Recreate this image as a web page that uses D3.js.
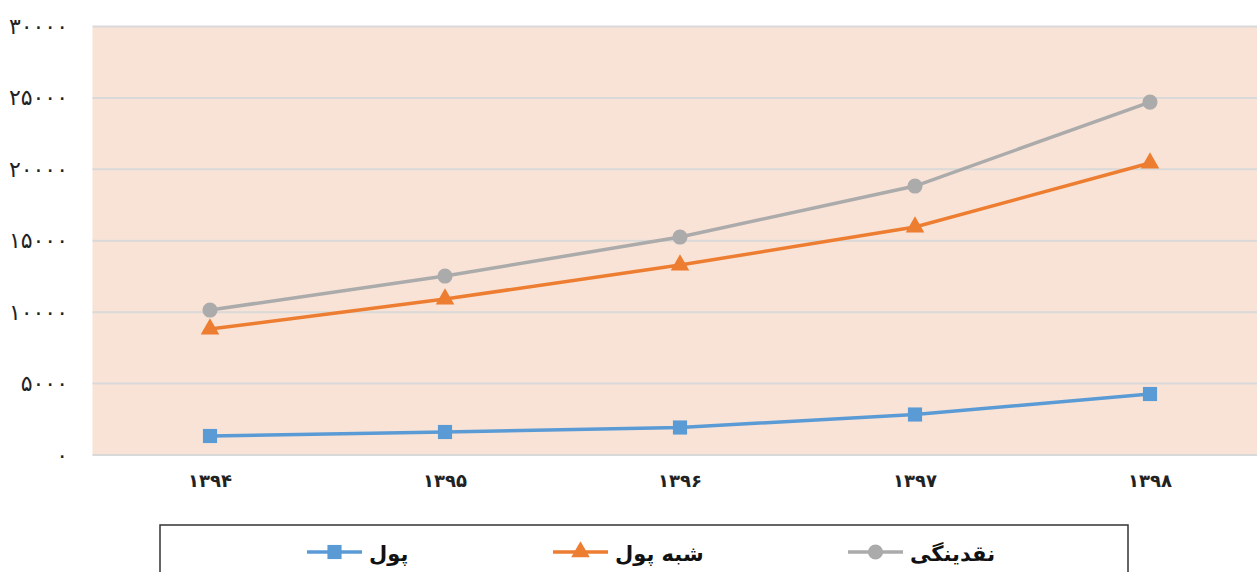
<!DOCTYPE html>
<html lang="fa">
<head>
<meta charset="UTF-8">
<title>Liquidity</title>
<script src="https://d3js.org/d3.v7.min.js"></script>
<style>
	html, body { margin: 0; padding: 0; background: #fff; }
	svg { display: block; }
	text { font-family: "DejaVu Sans", sans-serif; }
</style>
</head>
<body>
<svg id="chart" width="1257" height="572"></svg>
<script>
	// data
	const years = ["۱۳۹۴", "۱۳۹۵", "۱۳۹۶", "۱۳۹۷", "۱۳۹۸"];
	const money = [1330, 1610, 1925, 2835, 4270];          // پول
	const quasiMoney = [8820, 10920, 13300, 15960, 20440]; // شبه پول
	const liquidity = [10150, 12530, 15260, 18830, 24710]; // نقدینگی
	const yTicks = [0, 5000, 10000, 15000, 20000, 25000, 30000];

	const series = [
		{ name: "پول", values: money, color: "#5B9BD5", shape: "square" },
		{ name: "شبه پول", values: quasiMoney, color: "#ED7D31", shape: "triangle" },
		{ name: "نقدینگی", values: liquidity, color: "#ABABAB", shape: "circle" }
	];

	const faDigits = "۰۱۲۳۴۵۶۷۸۹";
	const toFa = n => String(n).replace(/\d/g, c => faDigits[c]);

	const svg = d3.select("#chart");
	const plotLeft = 92.5, plotTop = 26.5, plotBottom = 455;
	const bandW = 235;

	const x = d3.scaleBand()
		.domain(years)
		.range([plotLeft, plotLeft + bandW * years.length]);

	const y = d3.scaleLinear()
		.domain([0, 30000])
		.range([plotBottom, plotTop]);

	// plot background
	svg.append("rect")
		.attr("x", plotLeft)
		.attr("y", plotTop)
		.attr("width", x.range()[1] - plotLeft)
		.attr("height", plotBottom - plotTop)
		.attr("fill", "#F9E3D6");

	// grid lines
	svg.append("g")
		.selectAll("line")
		.data(yTicks)
		.enter().append("line")
		.attr("x1", plotLeft)
		.attr("x2", x.range()[1])
		.attr("y1", d => y(d))
		.attr("y2", d => y(d))
		.attr("stroke", "#D9D9D9")
		.attr("stroke-width", 2);

	// y labels
	svg.append("g")
		.selectAll("text")
		.data(yTicks)
		.enter().append("text")
		.attr("x", 68)
		.attr("y", d => y(d))
		.attr("text-anchor", "end")
		.attr("dominant-baseline", "central")
		.attr("direction", "ltr")
		.attr("font-size", 22)
		.attr("fill", "#222")
		.text(d => toFa(d));

	// x labels
	svg.append("g")
		.selectAll("text")
		.data(years)
		.enter().append("text")
		.attr("x", d => x(d) + x.bandwidth() / 2)
		.attr("y", 480)
		.attr("text-anchor", "middle")
		.attr("dominant-baseline", "central")
		.attr("font-size", 18)
		.attr("font-weight", "bold")
		.attr("fill", "#222")
		.text(d => d);

	const cx = (d, i) => x(years[i]) + x.bandwidth() / 2;

	const line = d3.line()
		.x((d, i) => cx(d, i))
		.y(d => y(d));

	const symbolFor = {
		square: d3.symbol().type(d3.symbolSquare).size(200),
		triangle: d3.symbol().type(d3.symbolTriangle).size(150),
		circle: d3.symbol().type(d3.symbolCircle).size(180)
	};

	series.forEach(s => {
		svg.append("path")
			.datum(s.values)
			.attr("d", line)
			.attr("fill", "none")
			.attr("stroke", s.color)
			.attr("stroke-width", 3.5);

		svg.append("g")
			.selectAll("path")
			.data(s.values)
			.enter().append("path")
			.attr("transform", (d, i) => "translate(" + cx(d, i) + "," + y(d) + ")")
			.attr("d", symbolFor[s.shape]())
			.attr("fill", s.color);
	});

	// legend
	svg.append("rect")
		.attr("x", 160)
		.attr("y", 525)
		.attr("width", 968)
		.attr("height", 60)
		.attr("fill", "#fff")
		.attr("stroke", "#333")
		.attr("stroke-width", 1.5);

	const legendX = [307, 553, 848];
	const legendY = 552;
	const item = svg.append("g")
		.selectAll("g")
		.data(series)
		.enter().append("g")
		.attr("transform", (d, i) => "translate(" + legendX[i] + "," + legendY + ")");

	item.append("line")
		.attr("x1", 0)
		.attr("x2", 55)
		.attr("stroke", d => d.color)
		.attr("stroke-width", 3.5);

	item.append("path")
		.attr("transform", "translate(27.5,0)")
		.attr("d", d => symbolFor[d.shape]())
		.attr("fill", d => d.color);

	item.append("text")
		.attr("x", 62)
		.attr("y", 2)
		.attr("text-anchor", "start")
		.attr("dominant-baseline", "central")
		.attr("font-size", 21)
		.attr("font-weight", "bold")
		.attr("fill", "#111")
		.text(d => d.name);
</script>
</body>
</html>
